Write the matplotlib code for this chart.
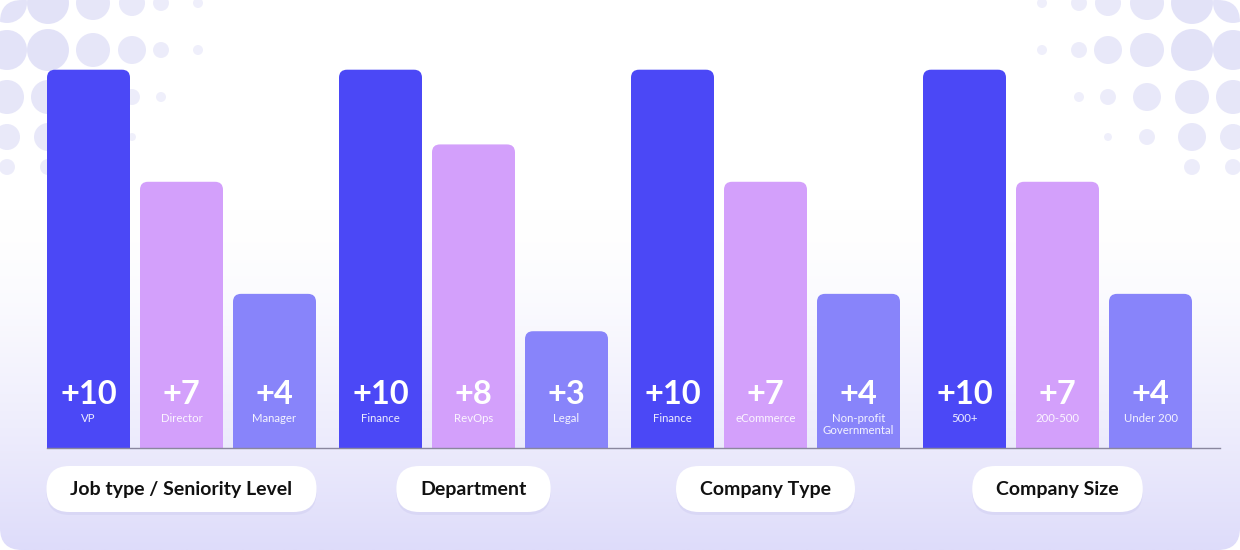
import matplotlib
matplotlib.use('Agg')
import matplotlib.pyplot as plt
import numpy as np
from matplotlib.patches import FancyBboxPatch, Rectangle, Circle

# data
groups = ['Job type / Seniority Level', 'Department', 'Company Type', 'Company Size']
labels = [
    ['VP', 'Director', 'Manager'],
    ['Finance', 'RevOps', 'Legal'],
    ['Finance', 'eCommerce', 'Non-profit\nGovernmental'],
    ['500+', '200-500', 'Under 200'],
]
values = [
    [10, 7, 4],
    [10, 8, 3],
    [10, 7, 4],
    [10, 7, 4],
]
colors = ['#4B48F6', '#D3A0FB', '#8884FA']

W, H = 1240, 550
PX = 93.0          # pixels per bar slot
PY = 37.36         # pixels per value unit
ZERO = 443.3       # pixel row of value 0
BASE = 448         # pixel row of the drawn baseline
GROUP_STEP = 292 / PX
BAR_W = 83 / PX
FONT = ['Lato', 'DejaVu Sans']

plt.rcParams['font.family'] = FONT


def row(p):
    # pixel row -> data y
    return (ZERO - p) / PY


fig = plt.figure(figsize=(W / 100, H / 100), dpi=100)

# background card (pixel coords)
bg = fig.add_axes([0, 0, 1, 1])
bg.set_xlim(0, W)
bg.set_ylim(H, 0)
bg.axis('off')
card = FancyBboxPatch((0, 0), W, H, boxstyle='round,pad=0,rounding_size=22',
                      fc='none', ec='none', transform=bg.transData)
bg.add_patch(card)

yy = np.linspace(0, H, 400)
t = np.clip((yy - 210) / (H - 210), 0, 1) ** 1.5
top = np.array([255, 255, 255]) / 255
bot = np.array([222, 220, 250]) / 255
grad = top[None, :] * (1 - t[:, None]) + bot[None, :] * t[:, None]
img = np.repeat(grad[:, None, :], 2, axis=1)
im = bg.imshow(img, extent=[0, W, H, 0], aspect='auto', zorder=0)
im.set_clip_path(card)

# halftone dots in top corners
dot_x = [7, 48, 93, 132, 161, 198]
dot_y = [3, 50, 97, 137, 167]
dot_r = [[20, 21, 17, 13, 8, 5],
         [20, 21, 17, 14, 8, 5],
         [17, 17, 14, 8, 5, 0],
         [13, 14, 8, 4, 0, 0],
         [8, 8, 0, 0, 0, 0]]
for ri, y in enumerate(dot_y):
    for ci, dx in enumerate(dot_x):
        r = dot_r[ri][ci]
        if r == 0:
            continue
        for x in (dx, W - dx):
            c = Circle((x, y), r, fc='#D7D7F5', ec='none',
                       alpha=0.3 + 0.4 * r / 21, zorder=1)
            bg.add_patch(c)
            c.set_clip_path(card)

# main chart axes
ax = fig.add_axes([0, 0, 1, 1])
ax.patch.set_alpha(0)
ax.set_xlim(-88.5 / PX, (W - 88.5) / PX)
ax.set_ylim(row(H), row(0))
ax.axis('off')

aspect = PX / PY
rad = 8 / PX
bottom = row(BASE)
renderer = fig.canvas.get_renderer()

for g, (name, vals, labs) in enumerate(zip(groups, values, labels)):
    for i, (v, lab) in enumerate(zip(vals, labs)):
        x = g * GROUP_STEP + i
        bar = FancyBboxPatch((x - BAR_W / 2, bottom), BAR_W, v - bottom,
                             boxstyle=f'round,pad=0,rounding_size={rad}',
                             mutation_aspect=aspect, fc=colors[i], ec='none', zorder=3)
        ax.add_patch(bar)
        ax.add_patch(Rectangle((x - BAR_W / 2, bottom), BAR_W, 1, fc=colors[i],
                               ec='none', zorder=3))
        ax.text(x, row(403.5), f'+{v}', color='white', fontsize=23.5,
                fontweight='bold', ha='center', va='baseline', zorder=4)
        for k, line in enumerate(lab.split('\n')):
            ax.text(x, row(422 + 11.5 * k), line, color='white', alpha=0.9,
                    fontsize=8.2, ha='center', va='baseline', zorder=4)

    cx = g * GROUP_STEP + 1
    txt = ax.text(cx, row(495.5), name, color='#111111', fontsize=14,
                  fontweight='bold', ha='center', va='baseline', zorder=6)
    tw = txt.get_window_extent(renderer).width
    pw = (tw + 48) / PX
    ph = 46 / PY
    cy = row(489)
    for off, fc, al in ((3, '#C9C6EE', 0.35), (0, 'white', 1.0)):
        pill = FancyBboxPatch((cx - pw / 2, cy - ph / 2 - off / PY), pw, ph,
                              boxstyle=f'round,pad=0,rounding_size={23 / PX}',
                              mutation_aspect=aspect, fc=fc, ec='none', alpha=al,
                              zorder=5)
        ax.add_patch(pill)

ax.axhline(bottom, xmin=47 / W, xmax=1220 / W, color='#8A879E', lw=1, zorder=4)

fig.savefig('out.png', dpi=100)
